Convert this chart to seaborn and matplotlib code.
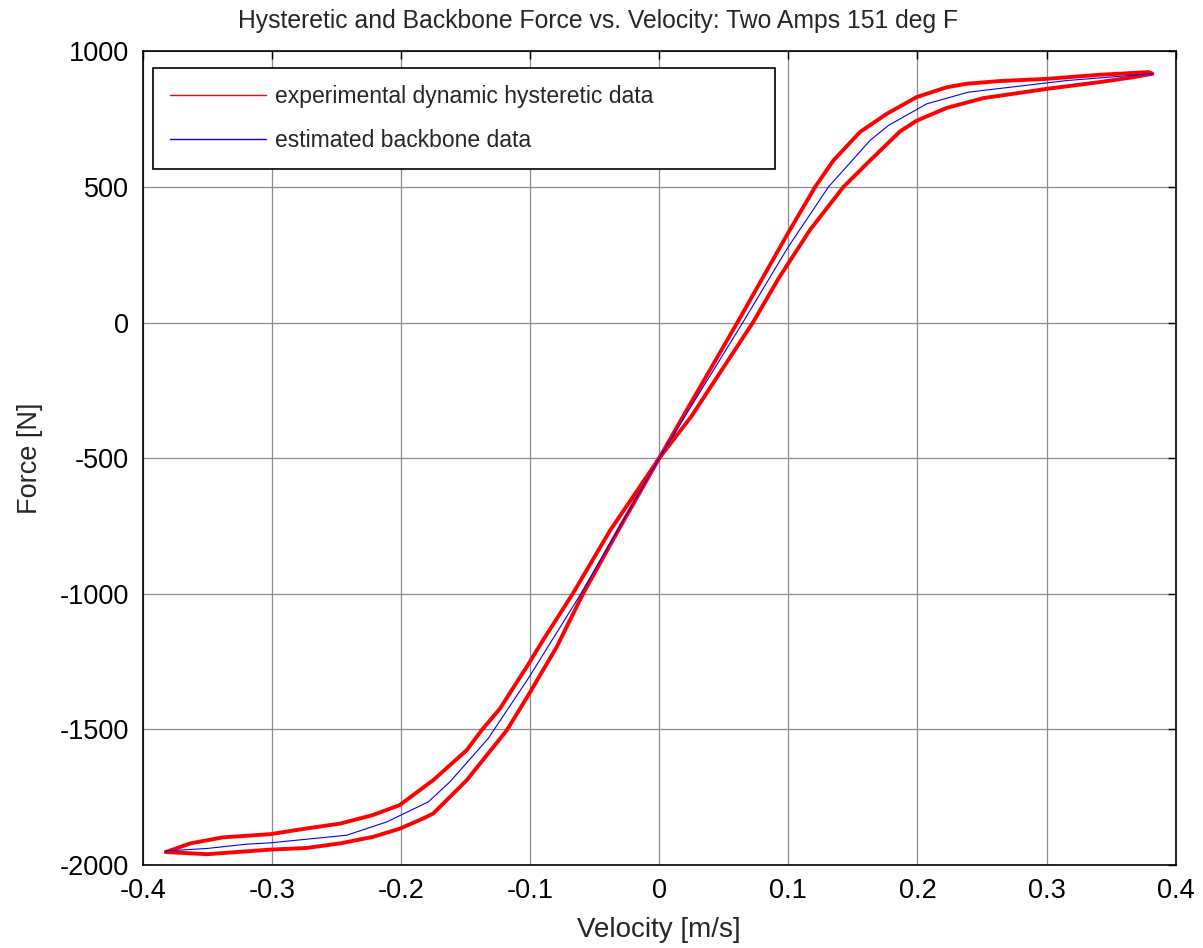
#!/usr/bin/env python3
# Hysteretic force-velocity loop with estimated backbone curve

import numpy as np
import pandas as pd
import matplotlib.pyplot as plt
from matplotlib.lines import Line2D
import seaborn as sns

sns.set_style("white")
plt.rcParams['font.family'] = ['Liberation Sans', 'DejaVu Sans']
plt.rcParams['font.size'] = 18

# Hysteretic loop, upper branch (left -> right)
up_vel = [-0.382, -0.363, -0.338, -0.301, -0.273, -0.247, -0.222, -0.201, -0.175,
          -0.149, -0.1375, -0.1233, -0.101, -0.090, -0.067, -0.038, 0.000, 0.017,
          0.0605, 0.0995, 0.1207, 0.1349, 0.1555, 0.1762, 0.1995, 0.2227, 0.238,
          0.264, 0.300, 0.341, 0.379]
up_force = [-1952, -1920, -1898, -1886, -1865, -1847, -1816, -1779, -1687,
            -1576, -1503, -1423, -1257, -1171, -1000, -766, -500, -358,
            0, 328, 500, 598, 703, 770, 832, 868, 881,
            891, 899, 914, 924]

# Hysteretic loop, lower branch (right -> left)
lo_vel = [0.382, 0.367, 0.341, 0.300, 0.251, 0.2227, 0.1995, 0.1865, 0.1633,
          0.1426, 0.1168, 0.0995, 0.0923, 0.0725, 0.025, 0.000, -0.0317, -0.059,
          -0.0794, -0.1014, -0.118, -0.149, -0.175, -0.1827, -0.201, -0.2215,
          -0.247, -0.273, -0.301, -0.350, -0.382]
lo_force = [918, 905, 887, 862, 828, 792, 745, 705, 598,
            500, 342, 215, 162, 0, -345, -500, -766, -1000,
            -1196, -1374, -1503, -1687, -1810, -1828, -1866, -1896,
            -1920, -1937, -1943, -1960, -1952]

# Estimated backbone
bb_vel = [-0.382, -0.3505, -0.3195, -0.301, -0.242, -0.211, -0.1788, -0.162, -0.1324,
          -0.1014, -0.062, 0.000, 0.0647, 0.0995, 0.131, 0.1633, 0.1775, 0.2072,
          0.2395, 0.316, 0.382]
bb_force = [-1948, -1939, -1923, -1918, -1890, -1841, -1767, -1693, -1533,
            -1312, -1010, -500, 0, 276, 500, 672, 727, 807,
            850, 893, 918]

legend_labels = ['experimental dynamic hysteretic data', 'estimated backbone data']

loop = pd.DataFrame({'vel': up_vel + lo_vel, 'force': up_force + lo_force})
backbone = pd.DataFrame({'vel': bb_vel, 'force': bb_force})

fig = plt.figure(figsize=(12.03, 9.48), dpi=100)
ax = fig.add_axes([0.1186, 0.0875, 0.9773 - 0.1186, 0.9457 - 0.0875])

sns.lineplot(data=loop, x='vel', y='force', sort=False, estimator=None,
             color='#ff0000', linewidth=2.8, ax=ax)
sns.lineplot(data=backbone, x='vel', y='force', sort=False, estimator=None,
             color='#0000ff', linewidth=0.8, ax=ax)

ax.set_xlim(-0.4, 0.4)
ax.set_ylim(-2000, 1000)
ax.set_xticks(np.arange(-0.4, 0.41, 0.1))
ax.set_xticklabels(['-0.4', '-0.3', '-0.2', '-0.1', '0', '0.1', '0.2', '0.3', '0.4'])
ax.set_yticks(np.arange(-2000, 1001, 500))
ax.set_yticklabels(['-2000', '-1500', '-1000', '-500', '0', '500', '1000'])
ax.grid(True, color='0.55', linewidth=0.9, linestyle='-')
ax.tick_params(direction='in', length=6, width=1, top=True, right=True,
               labelsize=19.5, colors='black')
ax.tick_params(axis='x', pad=9)
ax.tick_params(axis='y', pad=10)
for s in ax.spines.values():
    s.set_color('black')
    s.set_linewidth(1.2)

ax.set_title('Hysteretic and Backbone Force vs. Velocity: Two Amps 151 deg F',
             fontsize=17.8, pad=17, x=0.4408)
ax.set_xlabel('Velocity [m/s]', fontsize=20, labelpad=10)
ax.set_ylabel('Force [N]', fontsize=19.5, labelpad=12)

handles = [Line2D([], [], color='#ff0000', lw=1),
           Line2D([], [], color='#0000ff', lw=1)]
leg = ax.legend(handles, legend_labels,
                loc='upper left', bbox_to_anchor=(0.01, 0.865, 0.602, 0.115),
                mode='expand', borderaxespad=0,
                fontsize=16.5, handlelength=4.2, handletextpad=0.36,
                labelspacing=0.9, borderpad=0.75, fancybox=False, framealpha=1)
leg.get_frame().set_edgecolor('black')
leg.get_frame().set_linewidth(1.2)

plt.savefig('out.png', dpi=100)
plt.close()
